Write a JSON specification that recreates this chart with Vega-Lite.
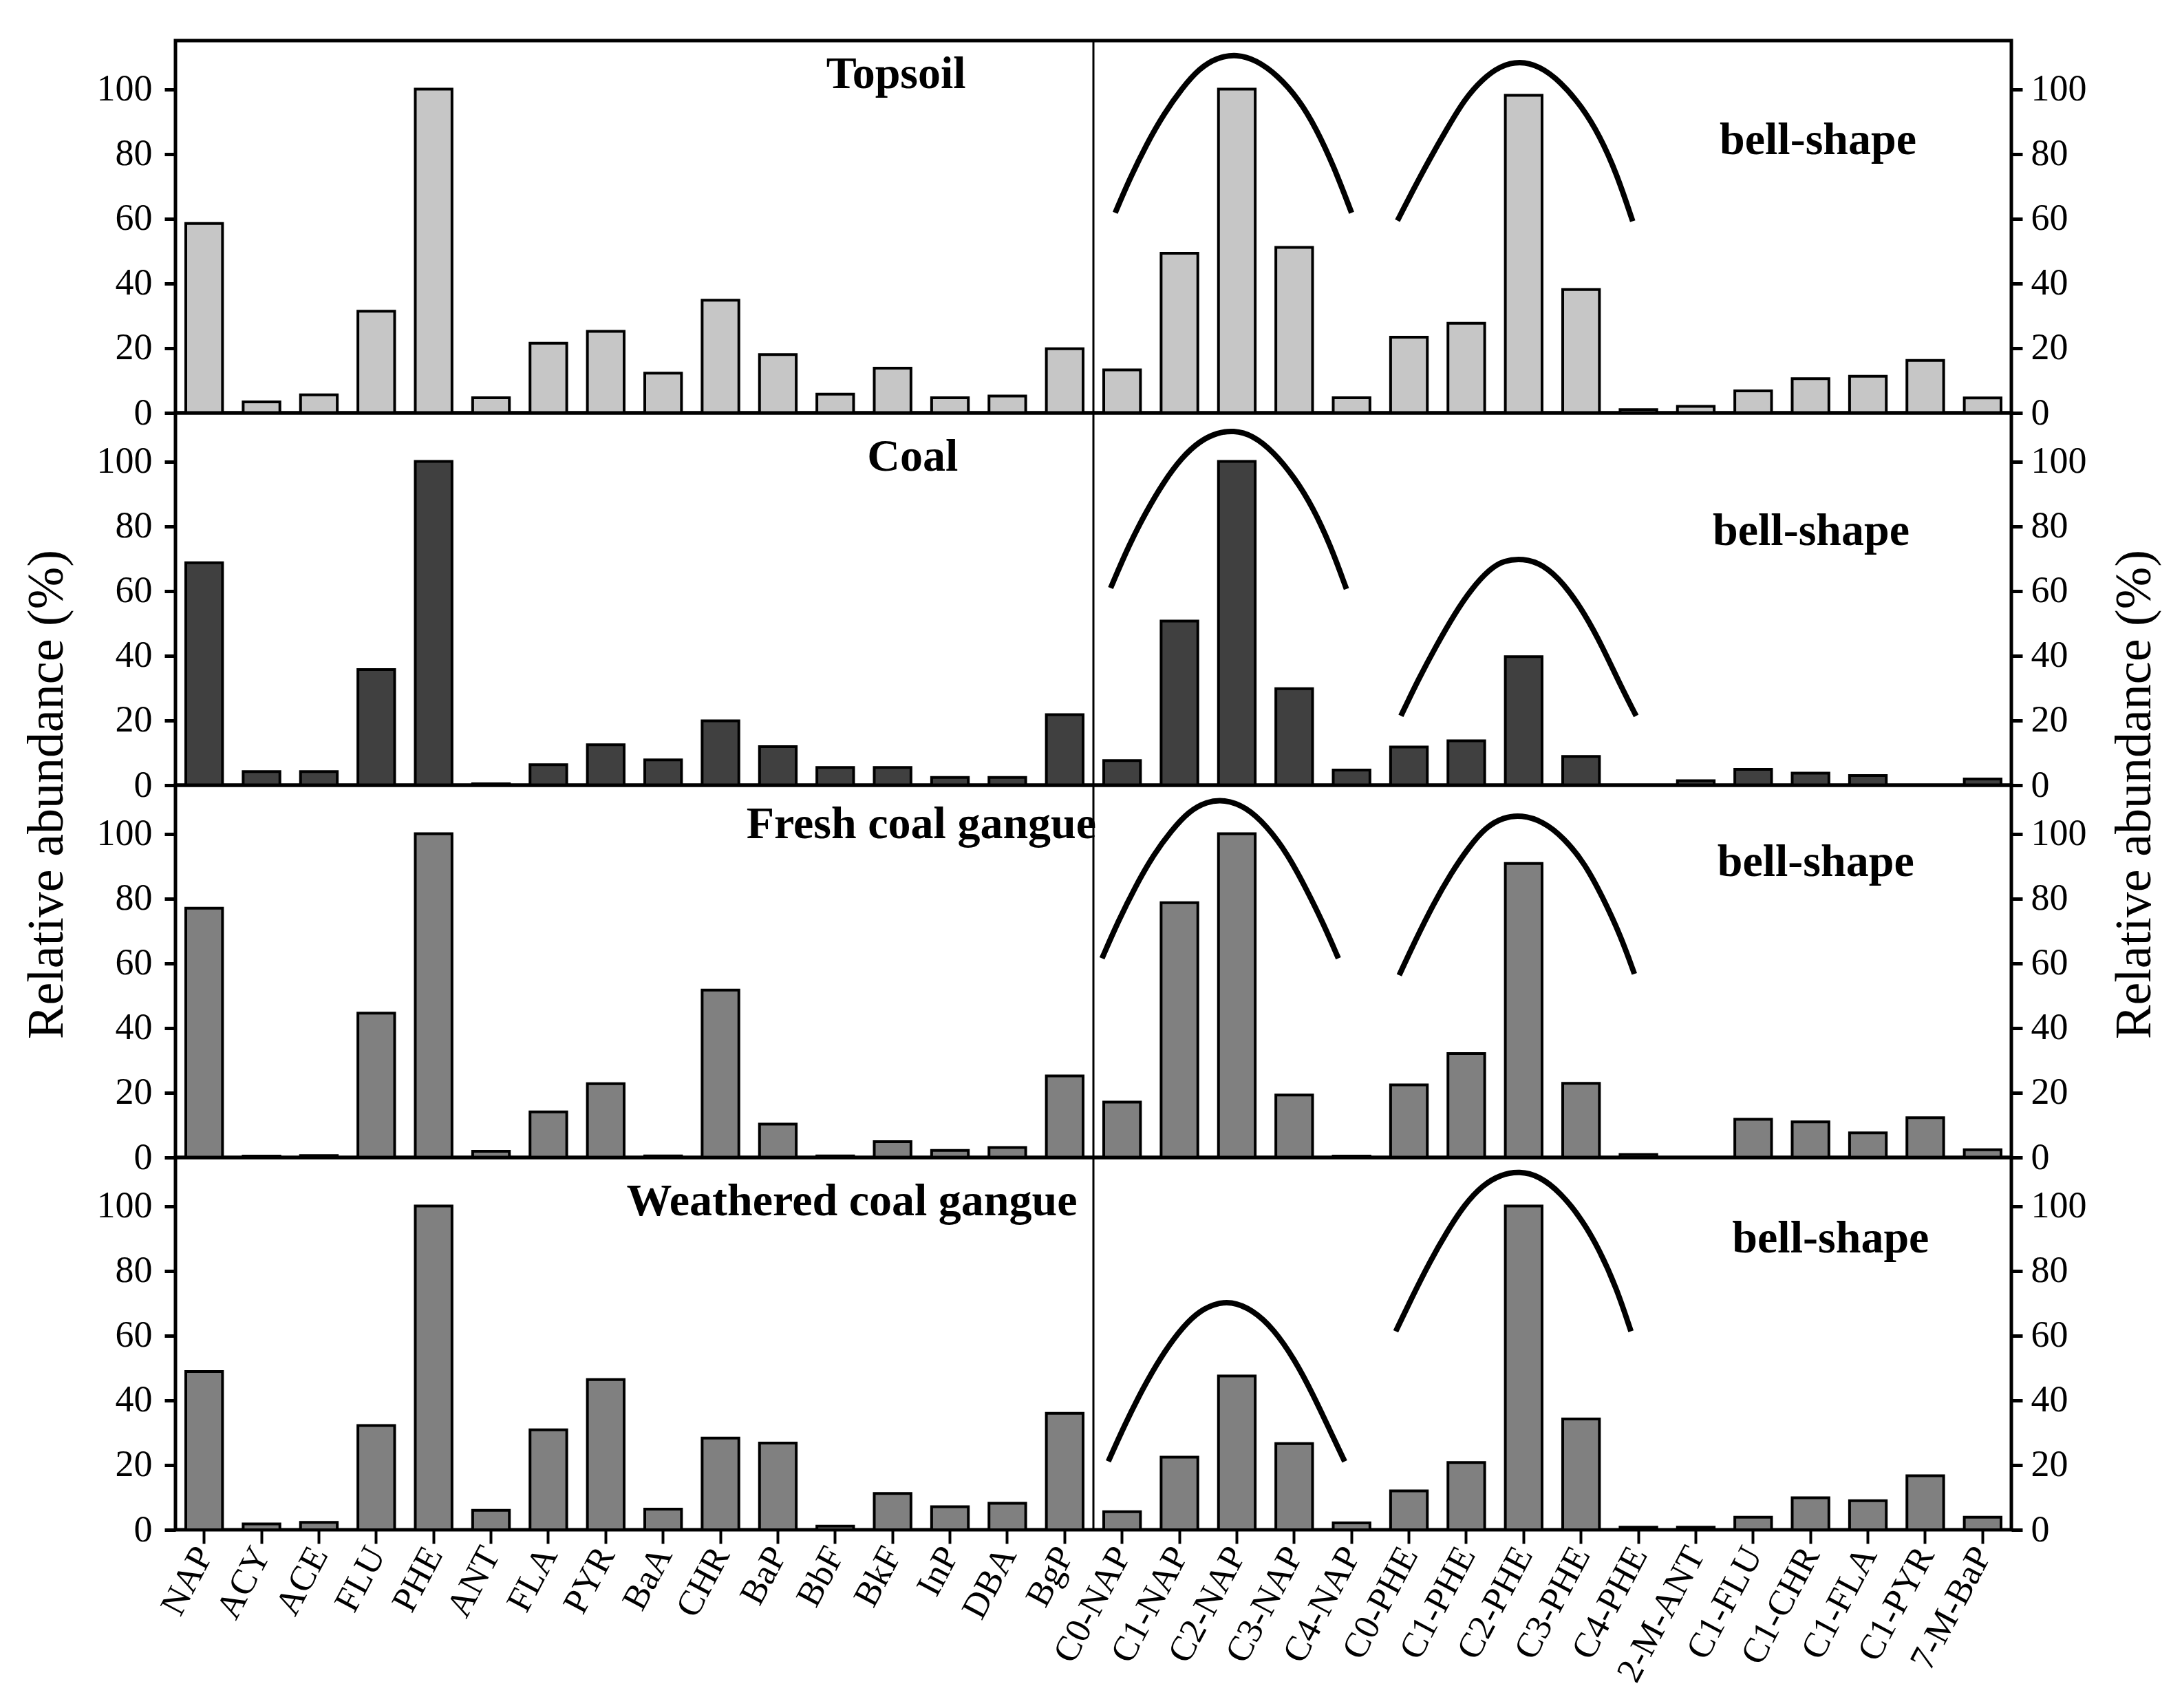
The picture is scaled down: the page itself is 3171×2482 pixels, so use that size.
{
  "$schema": "https://vega.github.io/schema/vega-lite/v6.json",
  "background": "white",
  "padding": {"left": 28, "top": 55, "right": 5, "bottom": 5},
  "bounds": "flush",
  "spacing": 0,
  "config": {
    "view": {"stroke": "#000", "strokeWidth": 5},
    "font": "Liberation Serif",
    "axis": {"labelFont": "Liberation Serif", "titleFont": "Liberation Serif", "labelColor": "#000", "titleColor": "#000", "tickColor": "#000", "grid": false, "domain": false, "labelLimit": 1000}
  },
  "datasets": {
    "bars": [
      {"panel": "Topsoil", "cat": "NAP", "value": 58.5}, {"panel": "Topsoil", "cat": "ACY", "value": 3.4}, {"panel": "Topsoil", "cat": "ACE", "value": 5.6}, {"panel": "Topsoil", "cat": "FLU", "value": 31.4}, {"panel": "Topsoil", "cat": "PHE", "value": 100}, {"panel": "Topsoil", "cat": "ANT", "value": 4.7}, {"panel": "Topsoil", "cat": "FLA", "value": 21.5}, {"panel": "Topsoil", "cat": "PYR", "value": 25.2}, {"panel": "Topsoil", "cat": "BaA", "value": 12.3}, {"panel": "Topsoil", "cat": "CHR", "value": 34.8}, {"panel": "Topsoil", "cat": "BaP", "value": 18.0}, {"panel": "Topsoil", "cat": "BbF", "value": 5.8}, {"panel": "Topsoil", "cat": "BkF", "value": 13.8}, {"panel": "Topsoil", "cat": "InP", "value": 4.7}, {"panel": "Topsoil", "cat": "DBA", "value": 5.2}, {"panel": "Topsoil", "cat": "BgP", "value": 19.8},
      {"panel": "Topsoil", "cat": "C0-NAP", "value": 13.3}, {"panel": "Topsoil", "cat": "C1-NAP", "value": 49.3}, {"panel": "Topsoil", "cat": "C2-NAP", "value": 100}, {"panel": "Topsoil", "cat": "C3-NAP", "value": 51.1}, {"panel": "Topsoil", "cat": "C4-NAP", "value": 4.7}, {"panel": "Topsoil", "cat": "C0-PHE", "value": 23.4}, {"panel": "Topsoil", "cat": "C1-PHE", "value": 27.7}, {"panel": "Topsoil", "cat": "C2-PHE", "value": 98.1}, {"panel": "Topsoil", "cat": "C3-PHE", "value": 38.1}, {"panel": "Topsoil", "cat": "C4-PHE", "value": 1.0}, {"panel": "Topsoil", "cat": "2-M-ANT", "value": 2.0}, {"panel": "Topsoil", "cat": "C1-FLU", "value": 6.8}, {"panel": "Topsoil", "cat": "C1-CHR", "value": 10.6}, {"panel": "Topsoil", "cat": "C1-FLA", "value": 11.3}, {"panel": "Topsoil", "cat": "C1-PYR", "value": 16.2}, {"panel": "Topsoil", "cat": "7-M-BaP", "value": 4.6},
      {"panel": "Coal", "cat": "NAP", "value": 68.7}, {"panel": "Coal", "cat": "ACY", "value": 4.2}, {"panel": "Coal", "cat": "ACE", "value": 4.2}, {"panel": "Coal", "cat": "FLU", "value": 35.7}, {"panel": "Coal", "cat": "PHE", "value": 100}, {"panel": "Coal", "cat": "ANT", "value": 0.4}, {"panel": "Coal", "cat": "FLA", "value": 6.3}, {"panel": "Coal", "cat": "PYR", "value": 12.5}, {"panel": "Coal", "cat": "BaA", "value": 7.8}, {"panel": "Coal", "cat": "CHR", "value": 19.9}, {"panel": "Coal", "cat": "BaP", "value": 11.9}, {"panel": "Coal", "cat": "BbF", "value": 5.5}, {"panel": "Coal", "cat": "BkF", "value": 5.5}, {"panel": "Coal", "cat": "InP", "value": 2.4}, {"panel": "Coal", "cat": "DBA", "value": 2.4}, {"panel": "Coal", "cat": "BgP", "value": 21.8},
      {"panel": "Coal", "cat": "C0-NAP", "value": 7.6}, {"panel": "Coal", "cat": "C1-NAP", "value": 50.7}, {"panel": "Coal", "cat": "C2-NAP", "value": 100}, {"panel": "Coal", "cat": "C3-NAP", "value": 29.8}, {"panel": "Coal", "cat": "C4-NAP", "value": 4.7}, {"panel": "Coal", "cat": "C0-PHE", "value": 11.8}, {"panel": "Coal", "cat": "C1-PHE", "value": 13.7}, {"panel": "Coal", "cat": "C2-PHE", "value": 39.7}, {"panel": "Coal", "cat": "C3-PHE", "value": 8.9}, {"panel": "Coal", "cat": "C4-PHE", "value": 0}, {"panel": "Coal", "cat": "2-M-ANT", "value": 1.4}, {"panel": "Coal", "cat": "C1-FLU", "value": 4.9}, {"panel": "Coal", "cat": "C1-CHR", "value": 3.7}, {"panel": "Coal", "cat": "C1-FLA", "value": 3.0}, {"panel": "Coal", "cat": "C1-PYR", "value": 0}, {"panel": "Coal", "cat": "7-M-BaP", "value": 1.9},
      {"panel": "Fresh", "cat": "NAP", "value": 77.0}, {"panel": "Fresh", "cat": "ACY", "value": 0.4}, {"panel": "Fresh", "cat": "ACE", "value": 0.6}, {"panel": "Fresh", "cat": "FLU", "value": 44.6}, {"panel": "Fresh", "cat": "PHE", "value": 100}, {"panel": "Fresh", "cat": "ANT", "value": 1.9}, {"panel": "Fresh", "cat": "FLA", "value": 14.1}, {"panel": "Fresh", "cat": "PYR", "value": 22.8}, {"panel": "Fresh", "cat": "BaA", "value": 0.5}, {"panel": "Fresh", "cat": "CHR", "value": 51.7}, {"panel": "Fresh", "cat": "BaP", "value": 10.3}, {"panel": "Fresh", "cat": "BbF", "value": 0.5}, {"panel": "Fresh", "cat": "BkF", "value": 4.9}, {"panel": "Fresh", "cat": "InP", "value": 2.2}, {"panel": "Fresh", "cat": "DBA", "value": 3.1}, {"panel": "Fresh", "cat": "BgP", "value": 25.2},
      {"panel": "Fresh", "cat": "C0-NAP", "value": 17.1}, {"panel": "Fresh", "cat": "C1-NAP", "value": 78.7}, {"panel": "Fresh", "cat": "C2-NAP", "value": 100}, {"panel": "Fresh", "cat": "C3-NAP", "value": 19.3}, {"panel": "Fresh", "cat": "C4-NAP", "value": 0.4}, {"panel": "Fresh", "cat": "C0-PHE", "value": 22.4}, {"panel": "Fresh", "cat": "C1-PHE", "value": 32.1}, {"panel": "Fresh", "cat": "C2-PHE", "value": 90.8}, {"panel": "Fresh", "cat": "C3-PHE", "value": 22.9}, {"panel": "Fresh", "cat": "C4-PHE", "value": 0.9}, {"panel": "Fresh", "cat": "2-M-ANT", "value": 0}, {"panel": "Fresh", "cat": "C1-FLU", "value": 11.8}, {"panel": "Fresh", "cat": "C1-CHR", "value": 11.0}, {"panel": "Fresh", "cat": "C1-FLA", "value": 7.6}, {"panel": "Fresh", "cat": "C1-PYR", "value": 12.3}, {"panel": "Fresh", "cat": "7-M-BaP", "value": 2.4},
      {"panel": "Weathered", "cat": "NAP", "value": 48.9}, {"panel": "Weathered", "cat": "ACY", "value": 1.8}, {"panel": "Weathered", "cat": "ACE", "value": 2.3}, {"panel": "Weathered", "cat": "FLU", "value": 32.2}, {"panel": "Weathered", "cat": "PHE", "value": 100}, {"panel": "Weathered", "cat": "ANT", "value": 6.0}, {"panel": "Weathered", "cat": "FLA", "value": 30.9}, {"panel": "Weathered", "cat": "PYR", "value": 46.4}, {"panel": "Weathered", "cat": "BaA", "value": 6.4}, {"panel": "Weathered", "cat": "CHR", "value": 28.3}, {"panel": "Weathered", "cat": "BaP", "value": 26.8}, {"panel": "Weathered", "cat": "BbF", "value": 1.1}, {"panel": "Weathered", "cat": "BkF", "value": 11.2}, {"panel": "Weathered", "cat": "InP", "value": 7.1}, {"panel": "Weathered", "cat": "DBA", "value": 8.2}, {"panel": "Weathered", "cat": "BgP", "value": 36.0},
      {"panel": "Weathered", "cat": "C0-NAP", "value": 5.6}, {"panel": "Weathered", "cat": "C1-NAP", "value": 22.4}, {"panel": "Weathered", "cat": "C2-NAP", "value": 47.5}, {"panel": "Weathered", "cat": "C3-NAP", "value": 26.6}, {"panel": "Weathered", "cat": "C4-NAP", "value": 2.1}, {"panel": "Weathered", "cat": "C0-PHE", "value": 12.0}, {"panel": "Weathered", "cat": "C1-PHE", "value": 20.8}, {"panel": "Weathered", "cat": "C2-PHE", "value": 100}, {"panel": "Weathered", "cat": "C3-PHE", "value": 34.2}, {"panel": "Weathered", "cat": "C4-PHE", "value": 0.8}, {"panel": "Weathered", "cat": "2-M-ANT", "value": 0.8}, {"panel": "Weathered", "cat": "C1-FLU", "value": 3.9}, {"panel": "Weathered", "cat": "C1-CHR", "value": 9.9}, {"panel": "Weathered", "cat": "C1-FLA", "value": 9.0}, {"panel": "Weathered", "cat": "C1-PYR", "value": 16.7}, {"panel": "Weathered", "cat": "7-M-BaP", "value": 3.9}
    ],
    "curves": [
      {"panel": "Topsoil", "arc": "a1", "xi": 16.38, "v": 61.8}, {"panel": "Topsoil", "arc": "a1", "xi": 16.62, "v": 71.8}, {"panel": "Topsoil", "arc": "a1", "xi": 16.92, "v": 82.8}, {"panel": "Topsoil", "arc": "a1", "xi": 17.23, "v": 92.4}, {"panel": "Topsoil", "arc": "a1", "xi": 17.54, "v": 100.2}, {"panel": "Topsoil", "arc": "a1", "xi": 17.85, "v": 106.5}, {"panel": "Topsoil", "arc": "a1", "xi": 18.16, "v": 109.8}, {"panel": "Topsoil", "arc": "a1", "xi": 18.5, "v": 110.8}, {"panel": "Topsoil", "arc": "a1", "xi": 18.84, "v": 109.0}, {"panel": "Topsoil", "arc": "a1", "xi": 19.21, "v": 104.3}, {"panel": "Topsoil", "arc": "a1", "xi": 19.58, "v": 96.9}, {"panel": "Topsoil", "arc": "a1", "xi": 19.88, "v": 88.0}, {"panel": "Topsoil", "arc": "a1", "xi": 20.19, "v": 76.2}, {"panel": "Topsoil", "arc": "a1", "xi": 20.5, "v": 61.8},
      {"panel": "Topsoil", "arc": "a2", "xi": 21.30, "v": 59.4}, {"panel": "Topsoil", "arc": "a2", "xi": 21.55, "v": 68.1}, {"panel": "Topsoil", "arc": "a2", "xi": 21.86, "v": 78.4}, {"panel": "Topsoil", "arc": "a2", "xi": 22.17, "v": 88.0}, {"panel": "Topsoil", "arc": "a2", "xi": 22.47, "v": 96.9}, {"panel": "Topsoil", "arc": "a2", "xi": 22.78, "v": 103.1}, {"panel": "Topsoil", "arc": "a2", "xi": 23.09, "v": 107.2}, {"panel": "Topsoil", "arc": "a2", "xi": 23.43, "v": 108.7}, {"panel": "Topsoil", "arc": "a2", "xi": 23.77, "v": 107.2}, {"panel": "Topsoil", "arc": "a2", "xi": 24.14, "v": 102.4}, {"panel": "Topsoil", "arc": "a2", "xi": 24.51, "v": 94.7}, {"panel": "Topsoil", "arc": "a2", "xi": 24.82, "v": 85.8}, {"panel": "Topsoil", "arc": "a2", "xi": 25.12, "v": 74.0}, {"panel": "Topsoil", "arc": "a2", "xi": 25.40, "v": 59.2},
      {"panel": "Coal", "arc": "a1", "xi": 16.30, "v": 60.9}, {"panel": "Coal", "arc": "a1", "xi": 16.62, "v": 74.2}, {"panel": "Coal", "arc": "a1", "xi": 16.92, "v": 84.5}, {"panel": "Coal", "arc": "a1", "xi": 17.23, "v": 93.8}, {"panel": "Coal", "arc": "a1", "xi": 17.54, "v": 101.2}, {"panel": "Coal", "arc": "a1", "xi": 17.85, "v": 106.3}, {"panel": "Coal", "arc": "a1", "xi": 18.16, "v": 108.9}, {"panel": "Coal", "arc": "a1", "xi": 18.44, "v": 109.6}, {"panel": "Coal", "arc": "a1", "xi": 18.77, "v": 108.2}, {"panel": "Coal", "arc": "a1", "xi": 19.14, "v": 103.0}, {"panel": "Coal", "arc": "a1", "xi": 19.51, "v": 94.9}, {"panel": "Coal", "arc": "a1", "xi": 19.82, "v": 86.0}, {"panel": "Coal", "arc": "a1", "xi": 20.13, "v": 74.2}, {"panel": "Coal", "arc": "a1", "xi": 20.41, "v": 60.6},
      {"panel": "Coal", "arc": "a2", "xi": 21.36, "v": 21.4}, {"panel": "Coal", "arc": "a2", "xi": 21.67, "v": 32.9}, {"panel": "Coal", "arc": "a2", "xi": 21.98, "v": 43.2}, {"panel": "Coal", "arc": "a2", "xi": 22.29, "v": 52.8}, {"panel": "Coal", "arc": "a2", "xi": 22.60, "v": 60.9}, {"panel": "Coal", "arc": "a2", "xi": 22.91, "v": 66.8}, {"panel": "Coal", "arc": "a2", "xi": 23.15, "v": 69.4}, {"panel": "Coal", "arc": "a2", "xi": 23.49, "v": 70.1}, {"panel": "Coal", "arc": "a2", "xi": 23.83, "v": 68.3}, {"panel": "Coal", "arc": "a2", "xi": 24.20, "v": 62.4}, {"panel": "Coal", "arc": "a2", "xi": 24.57, "v": 52.8}, {"panel": "Coal", "arc": "a2", "xi": 24.88, "v": 42.5}, {"panel": "Coal", "arc": "a2", "xi": 25.19, "v": 30.7}, {"panel": "Coal", "arc": "a2", "xi": 25.46, "v": 21.4},
      {"panel": "Fresh", "arc": "a1", "xi": 16.15, "v": 61.5}, {"panel": "Fresh", "arc": "a1", "xi": 16.43, "v": 72.9}, {"panel": "Fresh", "arc": "a1", "xi": 16.74, "v": 84.0}, {"panel": "Fresh", "arc": "a1", "xi": 17.05, "v": 93.6}, {"panel": "Fresh", "arc": "a1", "xi": 17.36, "v": 101.0}, {"panel": "Fresh", "arc": "a1", "xi": 17.66, "v": 106.9}, {"panel": "Fresh", "arc": "a1", "xi": 17.97, "v": 109.9}, {"panel": "Fresh", "arc": "a1", "xi": 18.28, "v": 110.6}, {"panel": "Fresh", "arc": "a1", "xi": 18.65, "v": 108.4}, {"panel": "Fresh", "arc": "a1", "xi": 19.02, "v": 102.5}, {"panel": "Fresh", "arc": "a1", "xi": 19.39, "v": 93.6}, {"panel": "Fresh", "arc": "a1", "xi": 19.70, "v": 83.3}, {"panel": "Fresh", "arc": "a1", "xi": 20.01, "v": 72.2}, {"panel": "Fresh", "arc": "a1", "xi": 20.27, "v": 61.5},
      {"panel": "Fresh", "arc": "a2", "xi": 21.33, "v": 56.3}, {"panel": "Fresh", "arc": "a2", "xi": 21.61, "v": 67.0}, {"panel": "Fresh", "arc": "a2", "xi": 21.92, "v": 78.1}, {"panel": "Fresh", "arc": "a2", "xi": 22.23, "v": 87.7}, {"panel": "Fresh", "arc": "a2", "xi": 22.54, "v": 95.8}, {"panel": "Fresh", "arc": "a2", "xi": 22.84, "v": 102.1}, {"panel": "Fresh", "arc": "a2", "xi": 23.15, "v": 105.1}, {"panel": "Fresh", "arc": "a2", "xi": 23.46, "v": 105.8}, {"panel": "Fresh", "arc": "a2", "xi": 23.83, "v": 103.9}, {"panel": "Fresh", "arc": "a2", "xi": 24.20, "v": 98.8}, {"panel": "Fresh", "arc": "a2", "xi": 24.57, "v": 90.7}, {"panel": "Fresh", "arc": "a2", "xi": 24.88, "v": 80.3}, {"panel": "Fresh", "arc": "a2", "xi": 25.19, "v": 68.5}, {"panel": "Fresh", "arc": "a2", "xi": 25.43, "v": 56.7},
      {"panel": "Weathered", "arc": "a1", "xi": 16.26, "v": 21.1}, {"panel": "Weathered", "arc": "a1", "xi": 16.55, "v": 32.6}, {"panel": "Weathered", "arc": "a1", "xi": 16.86, "v": 43.6}, {"panel": "Weathered", "arc": "a1", "xi": 17.17, "v": 53.2}, {"panel": "Weathered", "arc": "a1", "xi": 17.48, "v": 61.0}, {"panel": "Weathered", "arc": "a1", "xi": 17.79, "v": 66.9}, {"panel": "Weathered", "arc": "a1", "xi": 18.10, "v": 69.8}, {"panel": "Weathered", "arc": "a1", "xi": 18.40, "v": 70.6}, {"panel": "Weathered", "arc": "a1", "xi": 18.77, "v": 68.0}, {"panel": "Weathered", "arc": "a1", "xi": 19.14, "v": 62.1}, {"panel": "Weathered", "arc": "a1", "xi": 19.51, "v": 52.5}, {"panel": "Weathered", "arc": "a1", "xi": 19.82, "v": 42.1}, {"panel": "Weathered", "arc": "a1", "xi": 20.13, "v": 30.4}, {"panel": "Weathered", "arc": "a1", "xi": 20.38, "v": 21.1},
      {"panel": "Weathered", "arc": "a2", "xi": 21.27, "v": 61.3}, {"panel": "Weathered", "arc": "a2", "xi": 21.55, "v": 71.7}, {"panel": "Weathered", "arc": "a2", "xi": 21.86, "v": 82.7}, {"panel": "Weathered", "arc": "a2", "xi": 22.17, "v": 92.3}, {"panel": "Weathered", "arc": "a2", "xi": 22.47, "v": 100.5}, {"panel": "Weathered", "arc": "a2", "xi": 22.78, "v": 106.4}, {"panel": "Weathered", "arc": "a2", "xi": 23.09, "v": 109.7}, {"panel": "Weathered", "arc": "a2", "xi": 23.43, "v": 110.8}, {"panel": "Weathered", "arc": "a2", "xi": 23.77, "v": 109.3}, {"panel": "Weathered", "arc": "a2", "xi": 24.14, "v": 104.2}, {"panel": "Weathered", "arc": "a2", "xi": 24.51, "v": 96.0}, {"panel": "Weathered", "arc": "a2", "xi": 24.82, "v": 86.5}, {"panel": "Weathered", "arc": "a2", "xi": 25.12, "v": 74.6}, {"panel": "Weathered", "arc": "a2", "xi": 25.37, "v": 61.3}
    ],
    "labels": [
      {"panel": "Topsoil", "label": "Topsoil", "xi": 12.56, "v": 104.6}, {"panel": "Topsoil", "label": "bell-shape", "xi": 28.63, "v": 84.2},
      {"panel": "Coal", "label": "Coal", "xi": 12.85, "v": 101.4}, {"panel": "Coal", "label": "bell-shape", "xi": 28.51, "v": 78.5},
      {"panel": "Fresh", "label": "Fresh coal gangue", "xi": 13.0, "v": 102.9}, {"panel": "Fresh", "label": "bell-shape", "xi": 28.59, "v": 91.1},
      {"panel": "Weathered", "label": "Weathered coal gangue", "xi": 11.79, "v": 101.4}, {"panel": "Weathered", "label": "bell-shape", "xi": 28.85, "v": 90.0}
    ]
  },
  "vconcat": [
    {
      "width": 2668, "height": 541,
      "resolve": {"scale": {"x": "independent"}, "axis": {"y": "independent"}},
      "layer": [
        {"data": {"name": "bars"}, "transform": [{"filter": "datum.panel === 'Topsoil'"}],
         "mark": {"type": "bar", "fill": "#c6c6c6", "stroke": "#000", "strokeWidth": 4},
         "encoding": {
           "x": {"field": "cat", "type": "nominal", "sort": null, "scale": {"paddingInner": 0.36, "paddingOuter": 0.18}, "axis": null},
           "y": {"field": "value", "type": "quantitative", "scale": {"domain": [0, 115], "nice": false}, "axis": {"orient": "left", "values": [0, 20, 40, 60, 80, 100], "labelFont": "Liberation Serif", "labelFontSize": 54, "tickSize": 16, "tickWidth": 5, "labelPadding": 18, "labelFlush": false, "title": null}}
         }},
        {"data": {"values": [{"boundary": 16}]},
         "mark": {"type": "rule", "stroke": "#000", "strokeWidth": 3},
         "encoding": {"x": {"field": "boundary", "type": "quantitative", "scale": {"domain": [0, 32], "nice": false, "zero": false}, "axis": null}}},
        {"data": {"name": "curves"}, "transform": [{"filter": "datum.panel === 'Topsoil'"}],
         "mark": {"type": "line", "interpolate": "basis", "stroke": "#000", "strokeWidth": 8},
         "encoding": {
           "x": {"field": "xi", "type": "quantitative", "scale": {"domain": [0, 32], "nice": false, "zero": false}, "axis": null},
           "y": {"field": "v", "type": "quantitative", "scale": {"domain": [0, 115], "nice": false}, "axis": null},
           "detail": {"field": "arc"}
         }},
        {"data": {"name": "labels"}, "transform": [{"filter": "datum.panel === 'Topsoil'"}],
         "mark": {"type": "text", "font": "Liberation Serif", "fontWeight": "bold", "fontSize": 66, "align": "center", "baseline": "middle", "color": "#000"},
         "encoding": {
           "x": {"field": "xi", "type": "quantitative", "scale": {"domain": [0, 32], "nice": false, "zero": false}, "axis": null},
           "y": {"field": "v", "type": "quantitative", "scale": {"domain": [0, 115], "nice": false}, "axis": {"orient": "right", "values": [0, 20, 40, 60, 80, 100], "labelFont": "Liberation Serif", "labelFontSize": 54, "tickSize": 16, "tickWidth": 5, "labelPadding": 12, "labelFlush": false, "title": null}},
           "text": {"field": "label"}
         }}
      ]
    },
    {
      "width": 2668, "height": 541,
      "resolve": {"scale": {"x": "independent"}, "axis": {"y": "independent"}},
      "layer": [
        {"data": {"name": "bars"}, "transform": [{"filter": "datum.panel === 'Coal'"}],
         "mark": {"type": "bar", "fill": "#404040", "stroke": "#000", "strokeWidth": 4},
         "encoding": {
           "x": {"field": "cat", "type": "nominal", "sort": null, "scale": {"paddingInner": 0.36, "paddingOuter": 0.18}, "axis": null},
           "y": {"field": "value", "type": "quantitative", "scale": {"domain": [0, 115], "nice": false}, "axis": {"orient": "left", "values": [0, 20, 40, 60, 80, 100], "labelFont": "Liberation Serif", "labelFontSize": 54, "tickSize": 16, "tickWidth": 5, "labelPadding": 18, "labelFlush": false, "title": "Relative abundance (%)", "titleFont": "Liberation Serif", "titleFontSize": 74, "titleFontWeight": "normal", "titleY": 554, "titlePadding": 34}}
         }},
        {"data": {"values": [{"boundary": 16}]},
         "mark": {"type": "rule", "stroke": "#000", "strokeWidth": 3},
         "encoding": {"x": {"field": "boundary", "type": "quantitative", "scale": {"domain": [0, 32], "nice": false, "zero": false}, "axis": null}}},
        {"data": {"name": "curves"}, "transform": [{"filter": "datum.panel === 'Coal'"}],
         "mark": {"type": "line", "interpolate": "basis", "stroke": "#000", "strokeWidth": 8},
         "encoding": {
           "x": {"field": "xi", "type": "quantitative", "scale": {"domain": [0, 32], "nice": false, "zero": false}, "axis": null},
           "y": {"field": "v", "type": "quantitative", "scale": {"domain": [0, 115], "nice": false}, "axis": null},
           "detail": {"field": "arc"}
         }},
        {"data": {"name": "labels"}, "transform": [{"filter": "datum.panel === 'Coal'"}],
         "mark": {"type": "text", "font": "Liberation Serif", "fontWeight": "bold", "fontSize": 66, "align": "center", "baseline": "middle", "color": "#000"},
         "encoding": {
           "x": {"field": "xi", "type": "quantitative", "scale": {"domain": [0, 32], "nice": false, "zero": false}, "axis": null},
           "y": {"field": "v", "type": "quantitative", "scale": {"domain": [0, 115], "nice": false}, "axis": {"orient": "right", "values": [0, 20, 40, 60, 80, 100], "labelFont": "Liberation Serif", "labelFontSize": 54, "tickSize": 16, "tickWidth": 5, "labelPadding": 12, "labelFlush": false, "title": "Relative abundance (%)", "titleFont": "Liberation Serif", "titleFontSize": 74, "titleFontWeight": "normal", "titleY": 554, "titleAngle": 270, "titleBaseline": "top", "titlePadding": 34}},
           "text": {"field": "label"}
         }}
      ]
    },
    {
      "width": 2668, "height": 541,
      "resolve": {"scale": {"x": "independent"}, "axis": {"y": "independent"}},
      "layer": [
        {"data": {"name": "bars"}, "transform": [{"filter": "datum.panel === 'Fresh'"}],
         "mark": {"type": "bar", "fill": "#808080", "stroke": "#000", "strokeWidth": 4},
         "encoding": {
           "x": {"field": "cat", "type": "nominal", "sort": null, "scale": {"paddingInner": 0.36, "paddingOuter": 0.18}, "axis": null},
           "y": {"field": "value", "type": "quantitative", "scale": {"domain": [0, 115], "nice": false}, "axis": {"orient": "left", "values": [0, 20, 40, 60, 80, 100], "labelFont": "Liberation Serif", "labelFontSize": 54, "tickSize": 16, "tickWidth": 5, "labelPadding": 18, "labelFlush": false, "title": null}}
         }},
        {"data": {"values": [{"boundary": 16}]},
         "mark": {"type": "rule", "stroke": "#000", "strokeWidth": 3},
         "encoding": {"x": {"field": "boundary", "type": "quantitative", "scale": {"domain": [0, 32], "nice": false, "zero": false}, "axis": null}}},
        {"data": {"name": "curves"}, "transform": [{"filter": "datum.panel === 'Fresh'"}],
         "mark": {"type": "line", "interpolate": "basis", "stroke": "#000", "strokeWidth": 8},
         "encoding": {
           "x": {"field": "xi", "type": "quantitative", "scale": {"domain": [0, 32], "nice": false, "zero": false}, "axis": null},
           "y": {"field": "v", "type": "quantitative", "scale": {"domain": [0, 115], "nice": false}, "axis": null},
           "detail": {"field": "arc"}
         }},
        {"data": {"name": "labels"}, "transform": [{"filter": "datum.panel === 'Fresh'"}],
         "mark": {"type": "text", "font": "Liberation Serif", "fontWeight": "bold", "fontSize": 66, "align": "center", "baseline": "middle", "color": "#000"},
         "encoding": {
           "x": {"field": "xi", "type": "quantitative", "scale": {"domain": [0, 32], "nice": false, "zero": false}, "axis": null},
           "y": {"field": "v", "type": "quantitative", "scale": {"domain": [0, 115], "nice": false}, "axis": {"orient": "right", "values": [0, 20, 40, 60, 80, 100], "labelFont": "Liberation Serif", "labelFontSize": 54, "tickSize": 16, "tickWidth": 5, "labelPadding": 12, "labelFlush": false, "title": null}},
           "text": {"field": "label"}
         }}
      ]
    },
    {
      "width": 2668, "height": 541,
      "resolve": {"scale": {"x": "independent"}, "axis": {"y": "independent"}},
      "layer": [
        {"data": {"name": "bars"}, "transform": [{"filter": "datum.panel === 'Weathered'"}],
         "mark": {"type": "bar", "fill": "#808080", "stroke": "#000", "strokeWidth": 4},
         "encoding": {
           "x": {"field": "cat", "type": "nominal", "sort": null, "scale": {"paddingInner": 0.36, "paddingOuter": 0.18}, "axis": {"orient": "bottom", "title": null, "labelAngle": -62, "labelAlign": "right", "labelBaseline": "middle", "labelFont": "Liberation Serif", "labelFontSize": 52, "labelLimit": 1000, "tickSize": 20, "tickWidth": 4, "labelPadding": 8}},
           "y": {"field": "value", "type": "quantitative", "scale": {"domain": [0, 115], "nice": false}, "axis": {"orient": "left", "values": [0, 20, 40, 60, 80, 100], "labelFont": "Liberation Serif", "labelFontSize": 54, "tickSize": 16, "tickWidth": 5, "labelPadding": 18, "labelFlush": false, "title": null}}
         }},
        {"data": {"values": [{"boundary": 16}]},
         "mark": {"type": "rule", "stroke": "#000", "strokeWidth": 3},
         "encoding": {"x": {"field": "boundary", "type": "quantitative", "scale": {"domain": [0, 32], "nice": false, "zero": false}, "axis": null}}},
        {"data": {"name": "curves"}, "transform": [{"filter": "datum.panel === 'Weathered'"}],
         "mark": {"type": "line", "interpolate": "basis", "stroke": "#000", "strokeWidth": 8},
         "encoding": {
           "x": {"field": "xi", "type": "quantitative", "scale": {"domain": [0, 32], "nice": false, "zero": false}, "axis": null},
           "y": {"field": "v", "type": "quantitative", "scale": {"domain": [0, 115], "nice": false}, "axis": null},
           "detail": {"field": "arc"}
         }},
        {"data": {"name": "labels"}, "transform": [{"filter": "datum.panel === 'Weathered'"}],
         "mark": {"type": "text", "font": "Liberation Serif", "fontWeight": "bold", "fontSize": 66, "align": "center", "baseline": "middle", "color": "#000"},
         "encoding": {
           "x": {"field": "xi", "type": "quantitative", "scale": {"domain": [0, 32], "nice": false, "zero": false}, "axis": null},
           "y": {"field": "v", "type": "quantitative", "scale": {"domain": [0, 115], "nice": false}, "axis": {"orient": "right", "values": [0, 20, 40, 60, 80, 100], "labelFont": "Liberation Serif", "labelFontSize": 54, "tickSize": 16, "tickWidth": 5, "labelPadding": 12, "labelFlush": false, "title": null}},
           "text": {"field": "label"}
         }}
      ]
    }
  ]
}
